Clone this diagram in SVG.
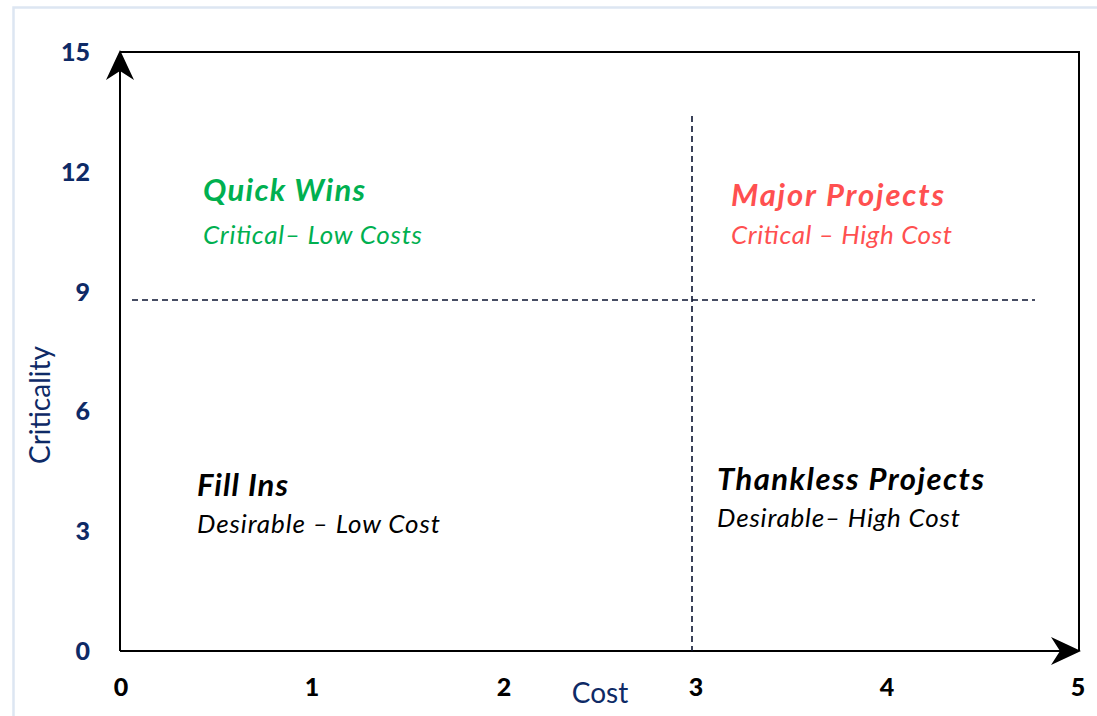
<svg xmlns="http://www.w3.org/2000/svg" width="1097" height="716" viewBox="0 0 1097 716">
<style>
.ylab{font-family:Lato,"Liberation Sans",sans-serif;font-weight:900;font-size:25px;fill:#0e2a66;text-anchor:end}
.xlab{font-family:Lato,"Liberation Sans",sans-serif;font-weight:900;font-size:25px;fill:#000;text-anchor:middle}
.axt{font-family:Lato,"Liberation Sans",sans-serif;font-size:28px;fill:#0e2a66}
.t{font-family:Lato,"Liberation Sans",sans-serif;font-style:italic;font-weight:bold;font-size:31px}
.s{font-family:Lato,"Liberation Sans",sans-serif;font-style:italic;font-size:26px}
.dash{stroke:#0a1330;stroke-width:1.6;stroke-dasharray:6 4;fill:none}
</style>
<defs>
<marker id="ah" viewBox="0 0 30 30" refX="28" refY="15" markerWidth="30" markerHeight="30" markerUnits="userSpaceOnUse" orient="auto">
<path d="M0,1 L30,15 L0,29 L9,15 Z" fill="#000"/>
</marker>
</defs>
<rect width="1097" height="716" fill="#fff"/>
<path d="M13.5,716 V7.5 H1097" stroke="#dde6f2" stroke-width="2.5" fill="none"/>
<g id="frame">
<path d="M120,52 H1079 V651" stroke="#000" stroke-width="2" fill="none"/>
</g>
<g id="connectors">
<line x1="120" y1="651" x2="120" y2="52" stroke="#000" stroke-width="2" marker-end="url(#ah)"/>
<line x1="120" y1="651" x2="1079" y2="651" stroke="#000" stroke-width="2" marker-end="url(#ah)"/>
<line class="dash" x1="132" y1="300" x2="1035" y2="300"/>
<line class="dash" x1="692" y1="116" x2="692" y2="651"/>
</g>
<g id="yaxis">
<text class="ylab" x="90" y="61">15</text>
<text class="ylab" x="90" y="181">12</text>
<text class="ylab" x="90" y="301">9</text>
<text class="ylab" x="90" y="420">6</text>
<text class="ylab" x="90" y="540">3</text>
<text class="ylab" x="90" y="660">0</text>
<text class="axt" transform="translate(50,405) rotate(-90)" text-anchor="middle">Criticality</text>
</g>
<g id="xaxis">
<text class="xlab" x="121" y="696">0</text>
<text class="xlab" x="312" y="696">1</text>
<text class="xlab" x="504" y="696">2</text>
<text class="xlab" x="696" y="696">3</text>
<text class="xlab" x="887" y="696">4</text>
<text class="xlab" x="1078" y="696">5</text>
<text class="axt" x="600" y="703" text-anchor="middle">Cost</text>
</g>
<g id="quick-wins">
<text class="t" x="203" y="201" fill="#00b050" textLength="162">Quick Wins</text>
<text class="s" x="203" y="244" fill="#00b050" textLength="219">Critical– Low Costs</text>
</g>
<g id="major-projects">
<text class="t" x="731" y="206" fill="#ff5050" textLength="213">Major Projects</text>
<text class="s" x="731" y="244" fill="#ff5050" textLength="221">Critical – High Cost</text>
</g>
<g id="fill-ins">
<text class="t" x="197" y="496" fill="#000" textLength="91">Fill Ins</text>
<text class="s" x="197" y="533" fill="#000" textLength="243">Desirable – Low Cost</text>
</g>
<g id="thankless-projects">
<text class="t" x="717" y="490" fill="#000" textLength="267">Thankless Projects</text>
<text class="s" x="717" y="527" fill="#000" textLength="243">Desirable– High Cost</text>
</g>
</svg>
